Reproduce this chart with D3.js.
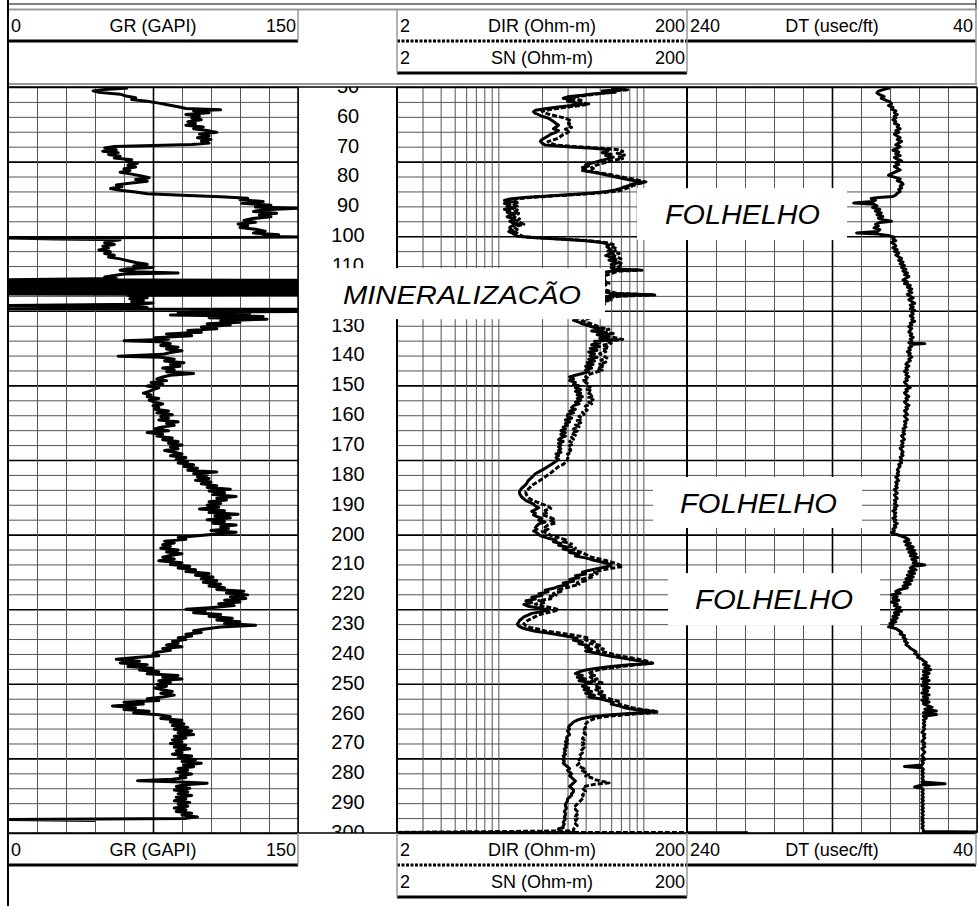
<!DOCTYPE html>
<html>
<head>
<meta charset="utf-8">
<script src="https://cdn.jsdelivr.net/npm/d3@7"></script>
<style>
body { margin: 0; background: #fff; }
svg { display: block; font-family: "Liberation Sans", Arial, sans-serif; }
</style>
</head>
<body>
<svg id="chart" width="979" height="906"></svg>
<script>
// [depth, value] pairs
var grLog = [
[50.3,62],[50.8,50],[51.3,44],[51.8,47],[52.4,58],[53.0,61],[53.6,66],[54.2,64],[54.8,72],[55.4,78],[56.0,83],[56.6,88],[57.2,92],[57.6,110],[58.0,96],[58.6,104],[59.2,92],[59.8,99],[60.4,95],[61.0,100],[61.6,93],[62.2,97],[62.8,92],[63.4,101],[64.0,96],[64.6,103],[65.2,108],[65.8,99],[66.4,104],[67.0,98],[67.6,105],[68.2,100],[68.8,104],[69.3,95],[69.6,75],[69.9,55],[70.4,50],[71.0,56],[71.5,49],[72.0,57],[72.6,52],[73.2,58],[73.8,55],[74.4,64],[75.0,61],[75.6,67],[76.2,62],[76.8,66],[77.4,60],[78.0,63],[78.6,58],[79.2,64],[79.8,69],[80.4,73],[81.0,66],[81.6,72],[82.2,64],[82.8,56],[83.4,59],[84.0,53],[84.6,58],[85.2,66],[85.8,72],[86.3,90],[86.8,110],[87.3,124],[87.8,120],[88.4,132],[89.0,121],[89.6,136],[90.2,128],[90.6,150],[91.1,133],[91.7,127],[92.3,139],[92.9,130],[93.5,136],[94.1,126],[94.7,122],[95.3,128],[95.9,119],[96.5,124],[97.1,120],[97.7,128],[98.3,133],[98.9,127],[99.5,140],[100.0,132],[100.3,150],[100.6,0],[100.9,25],[101.2,58],[101.7,53],[102.2,50],[102.8,55],[103.4,49],[104.0,52],[104.6,47],[105.2,53],[105.8,50],[106.4,55],[107.0,52],[107.6,58],[108.2,62],[108.8,66],[109.4,72],[110.0,65],[110.5,75],[110.9,62],[111.4,58],[111.9,66],[112.3,88],[112.7,60],[113.2,55],[113.7,50],[114.2,56],
[114.6,0],[114.8,150],[115.0,0],[115.2,150],[115.4,0],[115.6,150],[115.8,0],[116.0,150],[116.2,0],[116.4,150],[116.6,0],[116.8,150],[117.0,0],[117.2,150],[117.4,0],[117.6,150],[117.8,0],[118.0,150],[118.2,0],[118.4,150],[118.6,0],[118.8,150],[119.0,0],[119.2,150],[119.4,0],[119.6,150],
[119.8,62],[120.2,66],[120.6,72],[121.0,63],[121.5,70],[122.0,64],[122.4,75],[122.8,68],[123.2,0],[123.5,60],[123.9,72],[124.3,0],[124.5,150],[124.8,95],[125.2,150],[125.6,88],[126.0,125],[126.4,84],[126.9,132],[127.3,104],[127.8,134],[128.3,110],[128.8,120],[129.3,103],[129.8,115],[130.4,100],[131.0,108],[131.6,93],[132.2,100],[132.8,82],[133.4,95],[134.0,76],[134.5,83],[135.0,60],[135.4,78],[136.0,84],[136.6,79],[137.2,88],[137.8,82],[138.4,90],[139.0,84],[139.6,80],[140.2,57],[140.6,79],[141.2,86],[141.8,81],[142.4,91],[143.0,84],[143.6,89],[144.2,80],[144.8,86],[145.4,82],[146.0,96],[146.6,84],[147.2,80],[147.8,77],[148.4,82],[149.0,74],[149.6,80],[150.2,72],[150.8,78],[151.4,75],[152.0,73],[152.6,70],[153.2,74],[153.8,72],[154.4,78],[155.0,73],[155.6,76],[156.2,80],[156.8,75],[157.4,78],[158.0,76],[158.6,83],[159.2,77],[159.8,85],[160.4,79],[161.0,83],[161.6,78],[162.2,88],[162.8,82],[163.4,86],[164.0,79],[164.6,76],[165.2,83],[165.8,72],[166.4,80],[167.0,77],[167.6,85],[168.2,80],[168.8,88],[169.4,83],[170.0,90],[170.6,84],[171.2,88],[171.8,81],[172.4,86],[173.0,90],[173.6,84],[174.2,92],[174.8,87],
[175.4,93],[176.0,88],[176.6,96],[177.2,91],[177.8,98],[178.4,93],[179.0,108],[179.5,96],[180.0,103],[180.6,98],[181.2,104],[181.8,97],[182.4,105],[183.0,100],[183.6,108],[184.2,103],[184.8,115],[185.4,104],[186.0,112],[186.6,106],[187.2,118],[187.8,108],[188.4,113],[189.0,104],[189.6,110],[190.2,103],[190.8,109],[191.4,99],[192.0,112],[192.6,104],[193.2,119],[193.8,107],[194.4,115],[195.0,103],[195.6,112],[196.2,106],[196.8,118],[197.4,110],[198.0,114],[198.6,105],[199.2,118],[199.8,108],[200.4,98],[201.0,88],[201.6,92],[202.2,81],[202.8,86],[203.4,80],[204.0,84],[204.6,79],[205.2,88],[205.8,82],[206.4,90],[207.0,84],[207.6,80],[208.2,86],[208.8,78],[209.4,90],[210.0,84],[210.6,94],[211.2,88],[211.8,97],[212.4,92],[213.0,104],[213.6,97],[214.2,106],[214.8,100],[215.4,108],[216.0,101],[216.6,110],[217.2,104],[217.8,112],[218.4,108],[219.0,122],[219.6,113],[220.2,124],[220.8,115],[221.4,123],[222.0,112],[222.6,120],[223.2,109],[223.8,117],[224.4,106],[225.0,92],[225.6,102],[226.2,96],[226.8,110],[227.4,104],[228.0,116],[228.6,108],[229.2,120],[229.8,112],[230.4,128],[231.0,110],[231.6,102],[232.2,96],[232.8,100],[233.4,92],[234.0,95],[234.6,88],[235.2,92],[235.8,85],[236.4,88],[237.0,82],[237.6,90],[238.2,80],[238.8,84],[239.4,77],[240.0,75],[240.6,78],[241.2,66],[241.8,56],[242.4,68],[243.0,58],[243.6,72],[244.2,62],[244.8,75],[245.4,68],[246.0,78],[246.6,72],[247.2,88],[247.8,80],[248.4,90],[249.0,78],[249.6,84],[250.2,77],[250.8,82],[251.4,76],[252.0,80],[252.6,85],[253.2,79],[253.8,86],[254.4,80],[255.0,72],[255.6,78],[256.2,60],[256.8,70],[257.4,54],[258.0,66],[258.6,60],[259.2,73],[259.8,65],[260.4,78],[261.0,84],[261.6,79],[262.2,90],[262.8,84],[263.4,91],[264.0,85],[264.6,93],[265.2,86],[265.8,95],[266.4,88],[267.0,96],[267.6,86],[268.2,92],[268.8,85],[269.4,90],[270.0,84],[270.6,92],[271.2,86],[271.8,94],[272.4,87],[273.0,90],[273.6,85],[274.2,95],[274.8,88],[275.4,97],[276.0,90],[276.6,100],[277.2,91],[277.8,96],[278.4,88],[279.0,93],[279.6,87],[280.2,95],[280.8,89],[281.4,92],[282.0,85],[282.5,67],[282.9,90],[283.3,103],[283.8,91],[284.4,87],[285.0,94],[285.6,86],[286.2,93],[286.8,88],[287.4,95],[288.0,87],[288.6,92],[289.2,86],[289.8,94],[290.4,88],[291.0,93],[291.6,86],[292.2,92],[292.8,87],[293.4,95],[294.0,90],[294.6,98],[295.1,92],[295.5,0],[295.8,45]
];

var snLog = [
[50.3,60],[50.8,72],[51.3,52],[51.8,64],[52.3,46],[52.8,38],[53.3,30],[53.8,28],[54.3,33],[54.8,30],[55.3,34],[55.8,38],[56.3,31],[56.8,25],[57.3,21],[57.8,18],[58.3,17.5],[58.8,18],[59.3,19],[59.8,20],[60.4,22],[61.0,23],[61.6,24],[62.2,25],[62.8,26],[63.4,25],[64.0,24],[64.6,26],[65.2,25],[65.8,23],[66.4,22],[67.0,21],[67.6,20],[68.2,19.5],[68.8,20],[69.4,21],[70.0,30],[70.5,45],[71.0,58],[71.5,56],[72.0,52],[72.5,60],[73.0,55],[73.5,62],[74.0,58],[74.5,52],[75.0,48],[75.5,44],[76.0,40],[76.5,42],[77.0,38],[77.5,40],[78.0,38],[78.5,44],[79.0,50],[79.5,56],[80.0,62],[80.5,70],[81.0,78],[81.5,90],[82.0,100],[82.5,84],[83.0,80],[83.5,74],[84.0,70],[84.5,64],[85.0,56],[85.5,45],[86.0,32],[86.5,22],[87.0,15],[87.5,12],[88.0,11],[88.5,12.5],[89.0,11],[89.5,12],[90.0,11.5],[90.5,13],[91.0,11],[91.5,12],[92.0,11.5],[92.5,13],[93.0,12],[93.5,11.5],[94.0,12.5],[94.5,13],[95.0,12],[95.5,12.5],[96.0,14],[96.5,12.5],[97.0,12],[97.5,12],[98.0,12.5],[98.5,11.8],[99.0,12.5],[99.5,13],[100.0,13.5],[100.5,18],[101.0,28],[101.5,40],[102.0,50],[102.5,55],[103.0,58],[103.5,56],[104.0,58],[104.5,60],[105.0,57],[105.5,62],[106.0,58],[106.5,55],[107.0,60],[107.5,64],[108.0,58],[108.5,62],[109.0,66],[109.5,60],[110.0,63],[110.5,60],[111.0,64],[111.3,94],[111.6,62],
[112.0,56],[112.6,48],[113.2,52],[113.8,44],[114.4,50],[115.0,46],[115.6,52],[116.2,48],[116.8,44],[117.4,50],[118.0,46],[118.6,54],[119.2,60],[119.6,116],[120.0,62],[120.4,50],[121.0,56],[121.6,46],[122.2,42],[122.8,48],[123.4,40],[124.0,44],[124.6,38],[125.2,42],[125.8,36],[126.4,40],[127.0,38],[127.6,35],[128.2,33],[128.8,36],[129.4,38],[130.0,42],
[130.6,46],[131.2,52],[131.8,44],[132.4,56],[133.0,48],[133.6,58],[134.2,50],[134.8,62],[135.2,46],[135.8,50],[136.4,44],[137.0,50],[137.6,43],[138.2,48],[138.8,42],[139.4,46],[140.0,43],[140.6,48],[141.2,42],[141.8,46],[142.4,41],[143.0,45],[143.6,40],[144.2,44],[144.8,40],[145.4,42],[146.0,38],[146.6,34],[147.2,31],[147.8,33],[148.4,31],[149.0,34],[149.6,33],[150.2,36],[150.8,34],[151.4,37],[152.0,34],[152.6,37],[153.2,35],[153.8,38],[154.4,35],[155.0,37],[155.6,34],[156.2,36],[156.8,33],[157.4,32],[158.0,34],[158.6,31],[159.2,33],[159.8,30],[160.4,30],[161.0,32],[161.6,29],[162.2,31],[162.8,29],[163.4,30],[164.0,28],[164.6,29],[165.2,27],[165.8,29],[166.4,27],[167.0,29],[167.6,27],[168.2,26],[168.8,28],[169.4,26],[170.0,27],[170.6,26],[171.2,27],[171.8,26],[172.4,27],[173.0,25],[173.6,26],[174.2,25],[174.8,26],[175.4,25],[176.0,24],[176.6,23],[177.2,22],[177.8,21],[178.4,20],[179.0,19],[179.6,18],[180.2,17.5],[180.8,17],[181.4,16.5],[182.0,16],[182.6,15.8],[183.2,15.5],[183.8,15],[184.4,14.5],[185.0,14.2],[185.6,14],[186.2,14],[186.8,14.2],[187.4,14.5],[188.0,15],[188.6,15.5],[189.2,16.5],[189.8,17.5],[190.4,18],[191.0,19],[191.6,18],[192.2,17],[192.8,18],[193.4,17.5],[194.0,18.5],[194.6,20],[195.2,19],[195.8,21],[196.4,19],[197.0,18.5],[197.6,18],[198.2,18.5],[198.8,17.5],[199.4,18.5],[200.0,19],[200.6,20],[201.2,22],[201.8,25],[202.4,24],[203.0,27],[203.6,26],[204.2,30],[204.8,28],[205.4,32],[206.0,31],[206.6,36],[207.2,34],[207.8,40],[208.4,44],[209.0,50],[209.6,56],[210.2,60],[210.8,56],[211.4,48],[212.0,42],[212.6,38],[213.2,40],[213.8,34],[214.4,36],[215.0,31],[215.6,33],[216.2,28],[216.8,30],[217.4,26],[218.0,24],[218.6,21],[219.2,22],[219.8,19],[220.4,20],[221.0,17],[221.6,18],[222.2,15.5],[222.8,17],[223.4,15],[224.0,16],[224.6,19],[225.2,22],[225.8,20],[226.4,17],[227.0,16],[227.6,15],[228.2,14.5],[228.8,14],[229.4,13.8],[230.0,13.5],[230.6,13.8],[231.2,14.5],[231.8,16],[232.4,18],[233.0,22],[233.6,26],[234.2,31],[234.8,35],[235.4,33],[236.0,38],[236.6,36],[237.2,42],[237.8,40],[238.4,44],[239.0,40],[239.6,46],[240.2,52],[240.8,60],[241.4,72],[242.0,86],[242.6,100],[243.2,113],[243.6,80],[244.2,60],[244.8,48],[245.4,40],[246.0,36],[246.6,34],[247.2,38],[247.8,35],[248.4,40],[249.0,36],[249.6,44],[250.2,40],[250.8,38],[251.4,42],[252.0,39],[252.6,44],[253.2,40],[253.8,46],[254.4,42],[255.0,50],[255.6,56],[256.2,62],[256.8,60],[257.4,68],[258.0,74],[258.6,88],[259.1,110],[259.4,124],[259.8,90],[260.4,60],[261.0,44],[261.6,38],[262.2,35],[262.8,33],[263.4,32],[264.0,31],[264.6,30.5],[265.2,31],[265.8,30],[266.4,30.5],[267.0,31],[267.6,30],[268.2,29.5],[268.8,30],[269.4,29],[270.0,30],[270.6,29],[271.2,29.5],[271.8,28.5],[272.4,29],[273.0,28.5],[273.6,29],[274.2,28],[274.8,28.5],[275.4,28],[276.0,28.5],[276.6,28],[277.2,29],[277.8,30],[278.4,31],[279.0,30],[279.6,31],[280.2,32],[280.8,31],[281.4,32],[282.0,33],[282.6,34],[283.2,33],[283.8,32],[284.4,31],[285.0,32],[285.6,33],[286.2,33],[286.8,32],[287.4,32],[288.0,31],[288.6,30],[289.2,30],[289.8,29.5],[290.4,29],[291.0,29],[291.6,29.5],[292.2,29],[292.8,28.5],[293.4,29],[294.0,29],[294.6,28.5],[295.2,29],[295.8,28.5],[296.4,28],[297.0,28.5],[297.6,28],[298.2,28],[298.6,26],[299.2,26]
];

var dirLog = [
[50.3,70],[50.9,78],[51.5,58],[52.1,52],[52.7,42],[53.3,34],[53.9,32],[54.5,38],[55.1,36],[55.7,42],[56.3,36],[56.9,28],[57.5,23],[58.1,20],[58.7,21],[59.3,23],[59.9,26],[60.5,29],[61.1,31],[61.7,30],[62.3,31],[62.9,30],[63.5,32],[64.1,29],[64.7,31],[65.3,30],[65.9,28],[66.5,27],[67.1,26],[67.7,24],[68.3,22],[68.9,23],[69.5,25],[70.0,34],[70.5,52],[71.0,68],[71.6,72],[72.2,66],[72.8,74],[73.4,68],[74.0,72],[74.6,62],[75.2,56],[75.8,50],[76.4,46],[77.0,44],[77.6,46],[78.2,43],[78.8,50],[79.4,60],[80.0,68],[80.6,80],[81.2,92],[81.8,104],[82.4,92],[83.0,86],[83.6,80],[84.2,74],[84.8,68],[85.4,52],[86.0,36],[86.5,24],[87.0,16.5],[87.6,13],[88.2,12.5],[88.8,13.5],[89.4,12.8],[90.0,13.5],[90.6,12.5],[91.2,13.5],[91.8,12.8],[92.4,13.8],[93.0,13],[93.6,12.8],[94.2,14],[94.8,13.5],[95.4,14],[96.0,15],[96.6,13.5],[97.2,13],[97.8,13.5],[98.4,12.8],[99.0,13.5],[99.6,14],[100.2,15],[100.7,22],[101.2,34],[101.7,46],[102.2,56],[102.8,62],[103.4,60],[104.0,64],[104.6,66],[105.2,62],[105.8,68],[106.4,62],[107.0,66],[107.6,70],[108.2,63],[108.8,68],[109.4,72],[110.0,68],[110.6,66],[111.2,72],[111.4,98],[111.7,68],[112.3,62],[113.0,56],[113.7,52],[114.4,56],[115.1,52],[115.8,58],[116.5,54],[117.2,50],[117.9,54],[118.6,60],[119.2,66],[119.7,120],[120.1,68],[120.7,56],[121.4,60],[122.1,50],[122.8,54],[123.5,46],[124.2,50],[124.9,44],[125.6,47],[126.3,43],[127.0,45],[127.7,41],[128.4,38],[129.1,42],[129.8,46],[130.5,50],[131.2,58],[131.9,50],[132.6,62],[133.3,54],[134.0,64],[134.6,72],[135.2,56],[135.9,60],[136.6,52],[137.3,58],[138.0,52],[138.7,55],[139.4,50],[140.1,53],[140.8,56],[141.5,51],[142.2,55],[142.9,50],[143.6,54],[144.3,48],[145.0,52],[145.7,46],[146.4,42],[147.1,40],[147.8,42],[148.5,38],[149.2,41],[149.9,40],[150.6,43],[151.3,41],[152.0,44],[152.7,42],[153.4,45],[154.1,42],[154.8,45],[155.5,42],[156.2,44],[156.9,40],[157.6,39],[158.3,41],[159.0,38],[159.7,39],[160.4,36],[161.1,38],[161.8,35],[162.5,37],[163.2,34],[163.9,36],[164.6,33],[165.3,35],[166.0,32],[166.7,34],[167.4,32],[168.1,33],[168.8,31],[169.5,33],[170.2,31],[170.9,32],[171.6,31],[172.3,32],[173.0,30],[173.7,31],[174.4,30],[175.1,30],[175.8,29],[176.5,28],[177.2,26],[177.9,25],[178.6,24],[179.3,23],[180.0,22],[180.7,21],[181.4,20],[182.1,19],[182.8,18],[183.5,17],[184.2,16.5],[184.9,16],[185.6,15.5],[186.3,15.5],[187.0,15.8],[187.7,16.2],[188.4,17],[189.1,18.5],[189.8,20],[190.5,22],[191.2,23],[191.9,21],[192.6,22],[193.3,20],[194.0,22],[194.7,24],[195.4,23],[196.1,25],[196.8,22],[197.5,21],[198.2,22],[198.9,20],[199.6,22],[200.3,23],[201.0,26],[201.7,29],[202.4,28],[203.1,32],[203.8,30],[204.5,34],[205.2,33],[205.9,37],[206.6,40],[207.3,42],[208.0,48],[208.7,55],[209.4,62],[210.1,68],[210.7,72],[211.3,60],[211.9,52],[212.5,46],[213.1,48],[213.7,42],[214.3,44],[214.9,38],[215.5,40],[216.1,35],[216.7,36],[217.3,32],[217.9,29],[218.5,26],[219.1,27],[219.7,24],[220.3,25],[220.9,22],[221.5,23],[222.1,19],[222.7,21],[223.3,18],[223.9,20],[224.5,23],[225.1,26],[225.7,24],[226.3,21],[226.9,19],[227.5,18],[228.1,17],[228.7,16],[229.3,15.5],[229.9,15],[230.5,15.5],[231.1,16.5],[231.7,19],[232.3,21],[232.9,26],[233.5,31],[234.1,37],[234.7,42],[235.3,40],[235.9,46],[236.5,43],[237.1,50],[237.7,47],[238.3,53],[238.9,48],[239.5,55],[240.1,62],[240.7,70],[241.3,82],[241.9,96],[242.5,108],[243.1,116],[243.6,90],[244.2,70],[244.8,56],[245.4,48],[246.0,44],[246.6,42],[247.2,46],[247.8,43],[248.4,48],[249.0,44],[249.6,52],[250.2,48],[250.8,46],[251.4,50],[252.0,47],[252.6,52],[253.2,48],[253.8,54],[254.4,50],[255.0,58],[255.6,64],[256.2,70],[256.8,68],[257.4,76],[258.0,84],[258.6,98],[259.1,118],[259.5,126],[259.9,100],[260.5,70],[261.1,52],[261.7,46],[262.3,43],[262.9,41],[263.5,40],[264.1,39],[264.7,40],[265.3,39],[265.9,40],[266.5,39],[267.1,40],[267.7,39],[268.3,38],[268.9,39],[269.5,38],[270.1,39],[270.7,38],[271.3,39],[271.9,38],[272.5,37],[273.1,38],[273.7,37],[274.3,36],[274.9,37],[275.5,36],[276.1,35],[276.7,36],[277.3,35],[277.9,37],[278.5,39],[279.1,38],[279.7,40],[280.3,42],[280.9,40],[281.5,44],[282.1,46],[282.7,52],[283.2,58],[283.7,46],[284.3,40],[284.9,38],[285.5,39],[286.1,40],[286.7,39],[287.3,38],[287.9,39],[288.5,38],[289.1,37],[289.7,36],[290.3,35],[290.9,34],[291.5,35],[292.1,34],[292.7,35],[293.3,34],[293.9,35],[294.5,34],[295.1,35],[295.7,34],[296.3,35],[296.9,34],[297.5,35],[298.1,34],[298.7,33],[299.3,33],[299.8,2],[299.8,200]
];

var dtLog = [
[50.3,100],[50.8,104],[51.4,108],[52.0,109],[52.6,107],[53.2,104],[53.8,106],[54.4,103],[55.0,100],[55.6,99],[56.2,101],[56.8,98],[57.4,99],[58.0,96],[58.6,97],[59.2,95],[59.8,97],[60.4,96],[61.0,98],[61.6,96],[62.2,97],[62.8,94],[63.4,95],[64.0,93],[64.6,96],[65.2,94],[65.8,97],[66.4,95],[67.0,93],[67.6,95],[68.2,92],[68.8,94],[69.4,96],[70.0,93],[70.6,95],[71.2,98],[71.8,94],[72.4,96],[73.0,93],[73.6,97],[74.2,95],[74.8,92],[75.4,96],[76.0,94],[76.6,97],[77.2,95],[77.8,93],[78.4,96],[79.0,99],[79.6,101],[80.2,97],[80.8,93],[81.4,95],[82.0,92],[82.6,91],[83.2,93],[83.8,92],[84.4,94],[85.0,93],[85.6,95],[86.2,96],[86.7,98],[87.0,108],[87.4,113],[87.9,110],[88.4,112],[88.9,125],[89.3,111],[89.8,109],[90.4,112],[91.0,107],[91.6,110],[92.2,106],[92.8,109],[93.4,105],[94.0,108],[94.6,104],[95.0,99],[95.4,107],[96.0,110],[96.6,108],[97.2,111],[97.8,107],[98.4,109],[98.9,123],[99.3,108],[99.8,101],[100.3,97],[100.9,98],[101.5,96],[102.1,99],[102.7,97],[103.3,96],[103.9,98],[104.5,95],[105.1,97],[105.7,94],[106.3,96],
[106.9,94],[107.5,92],[108.1,94],[108.7,91],[109.3,93],[109.9,90],[110.5,92],[111.1,89],[111.7,91],[112.3,88],[112.9,90],[113.5,87],[114.1,89],[114.7,91],[115.3,88],[115.9,90],[116.5,86],[117.1,88],[117.7,85],[118.3,87],[118.9,85],[119.5,88],[120.1,86],[120.7,84],[121.3,87],[121.9,85],[122.5,83],[123.1,86],[123.7,84],[124.3,86],[124.9,83],[125.5,85],[126.1,84],[126.7,86],[127.3,84],[127.9,85],[128.5,83],[129.1,86],[129.7,85],[130.3,87],[130.9,85],[131.5,86],
[132.1,87],[132.7,85],[133.3,86],[133.9,84],[134.5,86],[135.1,85],[135.7,87],[136.0,76],[136.3,86],[136.9,85],[137.5,87],[138.1,86],[138.7,88],[139.3,86],[139.9,87],[140.5,85],[141.1,87],[141.7,86],[142.3,88],[142.9,89],[143.5,87],[144.1,89],[144.7,88],[145.3,90],[145.9,88],[146.5,89],[147.1,87],[147.7,89],[148.3,88],[148.9,90],[149.5,89],[150.1,88],[150.7,86],[151.3,89],[151.9,88],[152.5,90],[153.1,89],[153.7,87],[154.3,89],[154.9,88],[155.5,90],[156.1,89],[156.7,87],[157.3,89],[157.9,88],[158.5,90],[159.1,89],[159.7,88],[160.3,90],[160.9,89],[161.5,88],[162.1,90],[162.7,89],[163.3,90],[163.9,89],[164.5,91],[165.1,90],[165.7,91],[166.3,90],[166.9,92],[167.5,91],[168.1,90],[168.7,92],[169.3,91],[169.9,92],[170.5,91],[171.1,93],[171.7,92],[172.3,91],[172.9,92],[173.5,91],[174.1,93],[174.7,92],[175.3,93],[175.9,92],[176.5,94],[177.1,93],[177.7,94],[178.3,95],[178.9,94],[179.5,95],[180.1,94],[180.7,96],[181.3,95],[181.9,94],[182.5,96],[183.1,95],[183.7,96],[184.3,95],[184.9,97],[185.5,96],[186.1,95],[186.7,97],[187.3,96],[187.9,95],[188.5,97],[189.1,96],[189.7,97],[190.3,95],[190.9,97],[191.5,96],[192.1,98],[192.7,96],[193.3,97],[193.9,96],[194.5,98],[195.1,96],[195.7,97],[196.3,95],[196.9,97],[197.5,96],[198.1,98],[198.7,97],
[199.3,99],[199.9,96],[200.5,92],[201.1,89],[201.7,87],[202.3,90],[202.9,86],[203.5,89],[204.1,84],[204.7,88],[205.3,83],[205.9,87],[206.5,82],[207.1,86],[207.7,81],[208.3,85],[208.9,82],[209.5,84],[210.2,76],[210.6,84],[211.2,86],[211.8,82],[212.4,87],[213.0,83],[213.6,88],[214.2,84],[214.8,89],[215.4,85],[216.0,90],[216.6,86],[217.2,91],[217.8,88],[218.4,93],[219.0,96],[219.6,93],[220.2,99],[220.8,95],[221.4,98],[222.0,94],[222.6,99],[223.2,95],[223.8,97],[224.4,93],[225.0,96],[225.6,92],[226.2,97],[226.8,94],[227.4,98],[228.0,95],[228.6,99],[229.2,96],[229.8,100],[230.4,98],[230.9,101],[231.5,96],[232.1,94],[232.7,92],[233.3,93],[233.9,90],[234.5,91],[235.1,89],[235.7,90],[236.3,88],[236.9,89],[237.5,87],[238.1,86],[238.7,84],[239.3,82],[239.9,83],[240.5,80],[241.1,81],[241.7,78],[242.3,77],[242.9,75],[243.5,77],[244.1,73],[244.7,76],[245.3,72],[245.9,77],[246.5,73],[247.1,77],[247.7,74],[248.3,78],[248.9,73],[249.5,77],[250.1,74],[250.7,78],[251.3,73],[251.9,77],[252.5,74],[253.1,78],[253.7,73],[254.3,77],[254.9,74],[255.5,78],[256.1,73],[256.7,77],[257.3,74],[257.9,71],[258.5,76],[259.1,68],[259.7,77],[260.3,68],[260.9,77],[261.5,75],[262.1,77],[262.7,76],[263.3,77],[263.9,76],[264.5,77],[265.1,76],[265.7,77],[266.3,78],[266.9,76],[267.5,77],[268.1,76],[268.7,77],[269.3,78],[269.9,76],[270.5,77],[271.1,76],[271.7,78],[272.3,77],[272.9,76],[273.5,77],[274.1,78],[274.7,77],[275.3,76],[275.9,78],[276.5,77],[277.2,78],[277.7,90],[278.1,78],[278.7,77],[279.3,78],[279.9,77],[280.5,78],[281.1,77],[281.7,78],[282.3,77],[282.9,78],[283.5,62],[283.9,78],[284.6,83],[285.0,78],[285.6,77],[286.2,78],[286.8,77],[287.4,78],[288.0,77],[288.6,78],[289.2,77],[289.8,78],[290.4,77],[291.0,78],[291.6,77],[292.2,78],[292.8,77],[293.4,78],[294.0,77],[294.6,78],[295.2,77],[295.8,78],[296.4,77],[297.0,78],[297.6,77],[298.2,78],[298.8,77],[299.5,77],[299.7,30],
null,[299.9,240],[299.9,198]
];

var depthLabels = [50,60,70,80,90,100,110,120,130,140,150,160,170,180,190,200,210,220,230,240,250,260,270,280,290,300];
var gridDepths = [50,55,60,65,70,75,80,85,90,95,100,105,110,115,120,125,130,135,140,145,150,155,160,165,170,175,180,185,190,195,200,205,210,215,220,225,230,235,240,245,250,255,260,265,270,275,280,285,290,295,300];
var grTicks = [0,15,30,45,60,75,90,105,120,135,150];
var resTicks = [2,3,4,5,6,7,8,9,10,20,30,40,50,60,70,80,90,100,200];
var dtTicks = [240,220,200,180,160,140,120,100,80,60,40];
var zoneNames = ["FOLHELHO", "FOLHELHO", "FOLHELHO", "MINERALIZACÃO"];
var zoneTop = [83.9, 180.7, 212.9, 110.7];
var zoneBottom = [101.3, 197.8, 230.4, 127.8];

var svg = d3.select("#chart");
var top0 = 87, bot0 = 833;

var y = d3.scaleLinear().domain([50, 300]).range([top0, bot0]);
var grX = d3.scaleLinear().domain([0, 150]).range([8, 298]);
var resX = d3.scaleLog().domain([2, 200]).range([397, 687]);
var dtX = d3.scaleLinear().domain([240, 40]).range([687, 977]);

var tracks = [
	{id: "gr", x0: 8, scale: grX, ticks: grTicks, major: [75]},
	{id: "res", x0: 397, scale: resX, ticks: resTicks, major: []},
	{id: "dt", x0: 687, scale: dtX, ticks: dtTicks, major: [140]}
];

var defs = svg.append("defs");
tracks.forEach(function(t) {
	defs.append("clipPath").attr("id", "clip-" + t.id)
		.append("rect").attr("x", t.x0).attr("y", top0).attr("width", 290).attr("height", bot0 - top0);
});
defs.append("clipPath").attr("id", "clip-depth")
	.append("rect").attr("x", 298).attr("y", top0).attr("width", 99).attr("height", bot0 - top0);

// grid
tracks.forEach(function(t) {
	let hg = svg.append("g").attr("transform", "translate(" + t.x0 + ",0)")
		.call(d3.axisRight(y).tickValues(gridDepths).tickSize(290).tickFormat(""));
	hg.select(".domain").remove();
	hg.selectAll(".tick line")
		.attr("stroke", function(d) { return d % 25 === 0 ? "#000" : "#555"; })
		.attr("stroke-width", function(d) { return d % 25 === 0 ? 1.6 : 1; });

	let vg = svg.append("g").attr("transform", "translate(0," + top0 + ")")
		.call(d3.axisBottom(t.scale).tickValues(t.ticks).tickSize(bot0 - top0).tickFormat(""));
	vg.select(".domain").remove();
	vg.selectAll(".tick line")
		.attr("stroke", function(d) { return t.major.indexOf(d) >= 0 ? "#000" : "#555"; })
		.attr("stroke-width", function(d) { return t.major.indexOf(d) >= 0 ? 1.6 : 1; });
});

// curves
function curve(data, xs, clip, dash) {
	let line = d3.line()
		.defined(function(d) { return d !== null; })
		.x(function(d) { return xs(d[1]); })
		.y(function(d) { return y(d[0]); });
	svg.append("path").datum(data)
		.attr("clip-path", "url(#clip-" + clip + ")")
		.attr("d", line)
		.attr("fill", "none")
		.attr("stroke", "#000")
		.attr("stroke-width", 3)
		.attr("stroke-linejoin", "round")
		.attr("stroke-dasharray", dash || null);
}
curve(grLog, grX, "gr");
curve(snLog, resX, "res");
curve(dirLog, resX, "res", "5,2");
curve(dtLog, dtX, "dt");

// track borders
var borders = [[8, 2], [298, 1.5], [397, 2], [687, 2], [977, 1.5]];
borders.forEach(function(b) {
	svg.append("line").attr("x1", b[0]).attr("x2", b[0]).attr("y1", top0).attr("y2", bot0)
		.attr("stroke", "#000").attr("stroke-width", b[1]);
});
svg.append("line").attr("x1", 8).attr("x2", 977).attr("y1", top0).attr("y2", top0)
	.attr("stroke", "#000").attr("stroke-width", 1.5);
svg.append("line").attr("x1", 8).attr("x2", 977).attr("y1", bot0).attr("y2", bot0)
	.attr("stroke", "#000").attr("stroke-width", 1.5);

// depth numbers; the ones under a label box are hidden in the log
var dg = svg.append("g").attr("clip-path", "url(#clip-depth)")
	.append("g").attr("transform", "translate(348,-1)")
	.call(d3.axisRight(y).tickValues(depthLabels).tickSize(0).tickPadding(0));
dg.select(".domain").remove();
dg.selectAll(".tick").filter(function(d) { return d > zoneTop[3] && d < zoneBottom[3]; }).remove();
dg.selectAll("text").attr("text-anchor", "middle").attr("x", 0)
	.attr("font-size", 20).attr("font-family", "Liberation Sans, Arial, sans-serif").attr("fill", "#000");

// zone labels on white boxes
var zoneX = [637, 653, 668, 330];
var zoneW = [210, 209, 212, 275];
var zoneTextX = [665, 680, 695, 343];
var zoneTextW = [155, 157, 158, 238];
zoneNames.forEach(function(name, i) {
	let y0 = y(zoneTop[i]), y1 = y(zoneBottom[i]);
	svg.append("rect").attr("x", zoneX[i]).attr("y", y0).attr("width", zoneW[i]).attr("height", y1 - y0)
		.attr("fill", "#fff");
	svg.append("text").attr("x", zoneTextX[i]).attr("y", (y0 + y1) / 2 + 10)
		.attr("font-size", i === 3 ? 26 : 28).attr("font-style", "italic")
		.attr("textLength", zoneTextW[i]).attr("lengthAdjust", "spacingAndGlyphs")
		.text(name);
});

// headers
function hline(x1, x2, yy, w, col, dash) {
	svg.append("line").attr("x1", x1).attr("x2", x2).attr("y1", yy).attr("y2", yy)
		.attr("stroke", col).attr("stroke-width", w).attr("stroke-dasharray", dash || null);
}
function vline(xx, y1, y2, w, col) {
	svg.append("line").attr("x1", xx).attr("x2", xx).attr("y1", y1).attr("y2", y2)
		.attr("stroke", col).attr("stroke-width", w);
}
function label(x, yy, txt, anchor) {
	svg.append("text").attr("x", x).attr("y", yy).attr("font-size", 18)
		.attr("text-anchor", anchor).text(txt);
}
function headerRows(yTop) {
	let b1 = yTop + 23, l1 = yTop + 32, b2 = yTop + 55, l2 = yTop + 64;
	label(11, b1, grTicks[0], "start");
	label(153, b1, "GR (GAPI)", "middle");
	label(296, b1, grTicks[grTicks.length - 1], "end");
	hline(8, 298, l1, 3, "#000");
	label(400, b1, resTicks[0], "start");
	label(542, b1, "DIR (Ohm-m)", "middle");
	label(685, b1, resTicks[resTicks.length - 1], "end");
	hline(397, 687, l1, 3, "#000", "3,1.5");
	label(400, b2, resTicks[0], "start");
	label(542, b2, "SN (Ohm-m)", "middle");
	label(685, b2, resTicks[resTicks.length - 1], "end");
	hline(397, 687, l2, 3, "#000");
	label(690, b1, dtTicks[0], "start");
	label(832, b1, "DT (usec/ft)", "middle");
	label(973, b1, dtTicks[dtTicks.length - 1], "end");
	hline(687, 976, l1, 3, "#000");
	vline(298, yTop, l1, 1.5, "#999");
	vline(397, yTop, l2, 1.5, "#999");
	vline(687, yTop, l2, 1.5, "#999");
}

hline(8, 976, 4, 1, "#000");
vline(976, 0, 9, 1, "#000");
hline(8, 976, 9.5, 2, "#999");
headerRows(9);
hline(8, 977, 84, 2, "#999");
vline(8, 0, 87, 2, "#000");
vline(976, 9, 84, 1.5, "#999");

headerRows(bot0);
vline(8, bot0, 906, 2, "#000");
vline(976, bot0, bot0 + 32, 1.5, "#999");
</script>
</body>
</html>
